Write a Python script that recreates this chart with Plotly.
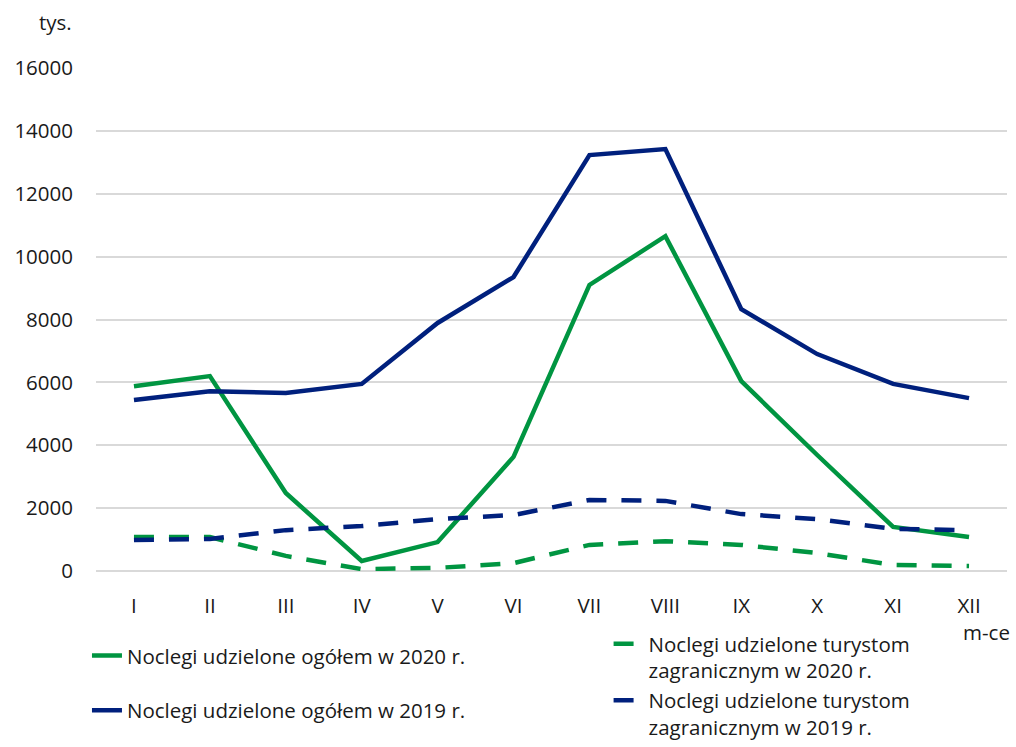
import plotly.graph_objects as go

months = ["I", "II", "III", "IV", "V", "VI", "VII", "VIII", "IX", "X", "XI", "XII"]
total_2020 = [5880, 6200, 2480, 320, 920, 3630, 9100, 10650, 6040, 3690, 1400, 1080]
total_2019 = [5440, 5720, 5660, 5950, 7890, 9350, 13230, 13420, 8330, 6900, 5950, 5500]
foreign_2020 = [1080, 1080, 480, 60, 100, 250, 830, 950, 830, 570, 190, 160]
foreign_2019 = [990, 1020, 1300, 1430, 1650, 1780, 2260, 2230, 1810, 1650, 1340, 1300]

GREEN = "#009541"
NAVY = "#00207d"
FONT = "Open Sans"
TXT = "#1a1a1a"
FS = 20.5

fig = go.Figure()
fig.add_trace(go.Scatter(x=months, y=total_2020, mode="lines", name="Noclegi udzielone ogółem w 2020 r.",
                         line=dict(color=GREEN, width=4.5), legend="legend", legendgroup="a"))
fig.add_trace(go.Scatter(x=months, y=total_2019, mode="lines", name="Noclegi udzielone ogółem w 2019 r.",
                         line=dict(color=NAVY, width=4.5), legend="legend", legendgroup="b"))
fig.add_trace(go.Scatter(x=months, y=foreign_2020, mode="lines",
                         name="Noclegi udzielone turystom<br>zagranicznym w 2020 r.",
                         line=dict(color=GREEN, width=4.5, dash="20px,15px"), legend="legend2", legendgroup="c"))
fig.add_trace(go.Scatter(x=months, y=foreign_2019, mode="lines",
                         name="Noclegi udzielone turystom<br>zagranicznym w 2019 r.",
                         line=dict(color=NAVY, width=4.5, dash="20px,15px"), legend="legend2", legendgroup="d"))

fig.update_layout(
    width=1016, height=747,
    margin=dict(l=96, r=9, t=68, b=176, autoexpand=False),
    plot_bgcolor="white", paper_bgcolor="white",
    font=dict(family=FONT, size=FS, color=TXT),
    showlegend=True,
    legend=dict(xref="container", yref="container", x=0.0856, xanchor="left", y=0.149, yanchor="top",
                bgcolor="rgba(0,0,0,0)", traceorder="grouped", tracegroupgap=25,
                font=dict(size=FS, family=FONT, color=TXT)),
    legend2=dict(xref="container", yref="container", x=0.599, xanchor="left", y=0.0, yanchor="bottom",
                 bgcolor="rgba(0,0,0,0)", traceorder="grouped", tracegroupgap=0, valign="top",
                 font=dict(size=FS, family=FONT, color=TXT)),
    annotations=[
        dict(text="tys.", xref="paper", yref="paper", x=-0.045, y=1.091, xanchor="center", yanchor="middle",
             showarrow=False, font=dict(size=FS, family=FONT, color=TXT)),
        dict(text="m-ce", xref="paper", yref="paper", x=0.978, y=-0.122, xanchor="center", yanchor="middle",
             showarrow=False, font=dict(size=FS, family=FONT, color=TXT)),
    ],
)
fig.update_xaxes(range=[-0.5, 11.5], showgrid=False, showline=False, zeroline=False, ticks="",
                 ticklabelstandoff=20, tickfont=dict(size=FS, family=FONT, color=TXT))
fig.update_yaxes(range=[0, 16000], dtick=2000, tickformat="d", showgrid=True, gridcolor="#d9d9d9", gridwidth=1.5,
                 zeroline=True, zerolinecolor="#d9d9d9", zerolinewidth=1.5, showline=False, ticks="",
                 ticklabelstandoff=22, tickfont=dict(size=FS, family=FONT, color=TXT))

fig.write_html("out.html", config={"displayModeBar": False},
               post_script="document.body.style.margin='0';document.body.style.overflow='hidden';")
